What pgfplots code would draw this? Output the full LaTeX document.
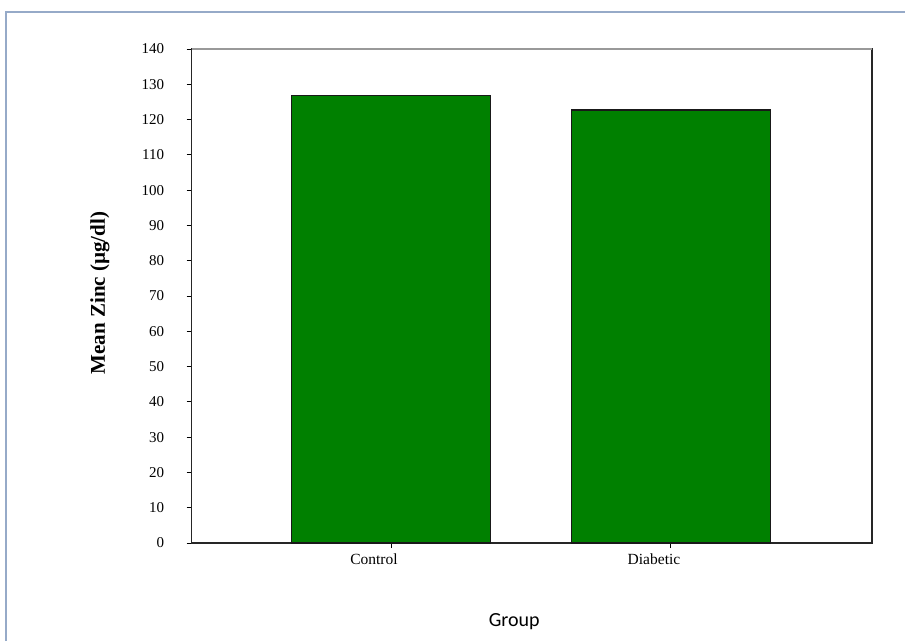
\documentclass[border=0pt]{standalone}
\usepackage{pgfplots}
\pgfplotsset{compat=1.18}
\usepackage{fontspec}
\setmainfont{Liberation Serif}
\newfontfamily\calfont{Carlito}
\definecolor{barGreen}{RGB}{0,128,0}
\definecolor{frameBlue}{RGB}{150,170,200}
\begin{document}
\begin{tikzpicture}[x=1pt,y=1pt]
\useasboundingbox (0,0) rectangle (905,641);
\draw[frameBlue, line width=1.5pt] (6,0) -- (6,629) -- (905,629);
\begin{axis}[
  at={(191.7pt,98pt)}, anchor=south west,
  width=680.3pt, height=494pt, scale only axis,
  xmin=-0.712, xmax=1.718,
  ymin=0, ymax=140,
  ytick={0,10,...,140},
  xtick={0,1},
  xticklabels={Control,Diabetic},
  tick pos=left,
  tick align=outside,
  major tick length=5pt,
  tick style={black, line width=1pt},
  axis line style={black!85, line width=1.3pt},
  /pgf/number format/assume math mode=true,
  yticklabel style={font=\fontsize{15}{15}\selectfont, xshift=-19pt},
  xticklabel style={font=\fontsize{15.5}{15.5}\selectfont, xshift=-17pt, yshift=-2pt},
  every axis y label/.style={at={(rel axis cs:0,0.506)}, xshift=-91.7pt, rotate=90, anchor=center},
  every axis x label/.style={at={(rel axis cs:0.474,0)}, yshift=-79pt, anchor=center},
  ylabel={\fontsize{21}{21}\selectfont\bfseries Mean Zinc (µg/dl)},
  xlabel={\calfont\fontsize{20}{20}\selectfont Group},
  clip=false,
]
\addplot[ybar, bar width=0.711, fill=barGreen, draw=black!90, line width=1.6pt]
  coordinates {(0,126.8) (1,122.7)};
\draw[gray!80, line width=2pt] (rel axis cs:0,1) -- (rel axis cs:1,1);
\end{axis}
\end{tikzpicture}
\end{document}
